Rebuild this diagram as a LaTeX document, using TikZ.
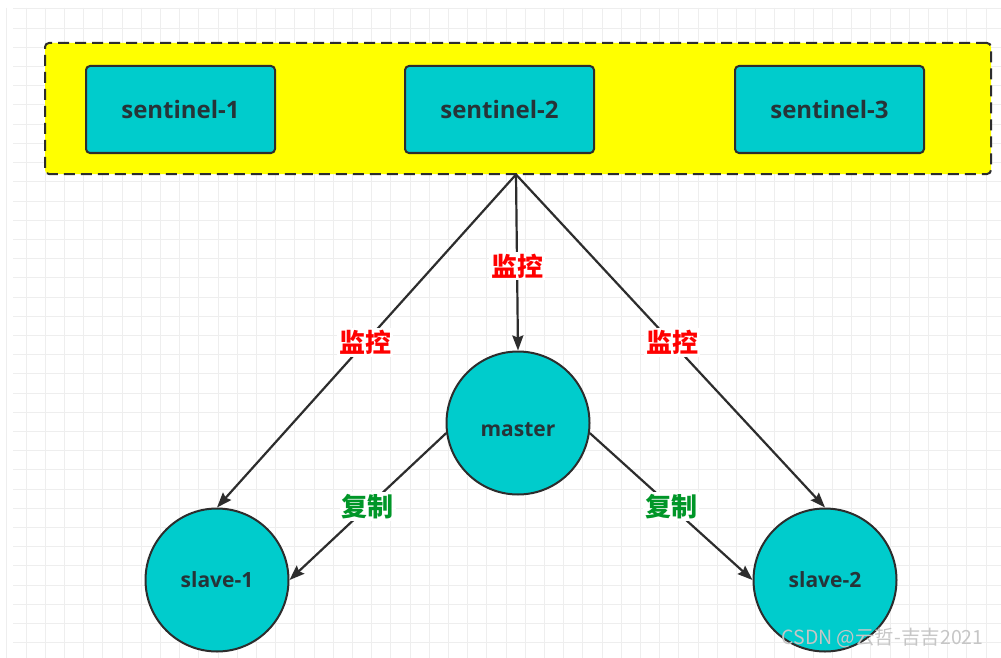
\documentclass[tikz,border=0pt]{standalone}
\usepackage{fontspec}
\setmainfont{Open Sans}
\newfontfamily\cjk{Noto Sans CJK SC}
\usetikzlibrary{arrows.meta}
\definecolor{teal0}{RGB}{0,204,204}
\definecolor{edge0}{RGB}{45,45,45}
\definecolor{txt0}{RGB}{38,52,56}
\definecolor{red0}{RGB}{255,0,0}
\definecolor{green0}{RGB}{0,150,40}
\definecolor{yellow0}{RGB}{255,255,0}
\definecolor{grid0}{RGB}{238,238,238}
\tikzset{
  sentbox/.style={draw=edge0, line width=2pt, fill=teal0, rounded corners=4pt,
    minimum width=189pt, minimum height=87pt, inner sep=0pt,
    font=\fontsize{24}{28}\selectfont\bfseries, text=txt0},
  redis/.style={circle, draw=edge0, line width=2pt, fill=teal0,
    minimum size=143pt, inner sep=0pt,
    font=\fontsize{21}{25}\selectfont\bfseries, text=txt0},
  conn/.style={draw=edge0, line width=2.2pt,
    -{Stealth[length=15pt,width=11pt,inset=2pt]}},
  monlbl/.style={fill=white, inner sep=2pt, text=red0,
    font=\cjk\fontsize{26}{30}\selectfont\bfseries},
  replbl/.style={fill=white, inner sep=2pt, text=green0,
    font=\cjk\fontsize{26}{30}\selectfont\bfseries},
}
\begin{document}
\begin{tikzpicture}[x=1pt,y=-1pt]
\useasboundingbox (0,0) rectangle (1001,658);
\fill[white] (0,0) rectangle (1001,658);
% grid
\foreach \i in {0,...,51} {
  \draw[grid0, line width=1pt] ({26+19.2*\i-19.2},8) -- ({26+19.2*\i-19.2},658);
}
\foreach \j in {0,...,34} {
  \draw[grid0, line width=1pt] (13,{9+19.2*\j}) -- (1001,{9+19.2*\j});
}
% sentinel group
\node[draw=edge0, line width=2pt, dash pattern=on 11pt off 6pt, fill=yellow0,
  rounded corners=4pt, minimum width=946pt, minimum height=131pt, inner sep=0pt]
  (group) at (518,108.5) {};
\node[sentbox] (s1) at (180.5,109.5) {sentinel-1};
\node[sentbox] (s2) at (499.5,109.5) {sentinel-2};
\node[sentbox] (s3) at (829.5,109.5) {sentinel-3};
\coordinate (src) at (516,174.5);
% redis nodes
\node[redis, text height=26pt, text depth=0pt] (master) at (518,423) {master};
\node[redis] (slave1) at (217,580) {slave-1};
\node[redis] (slave2) at (825,580) {slave-2};
% connectors
\draw[conn] (src) -- node[monlbl, pos=0.505] {监控} (slave1.north);
\draw[conn] (src) -- node[monlbl, pos=0.52] {监控} (master.north);
\draw[conn] (src) -- node[monlbl, pos=0.505] {监控} (slave2.north);
\draw[conn] (master.188) -- node[replbl, pos=0.5] {复制} (slave1.east);
\draw[conn] (master.352) -- node[replbl, pos=0.5] {复制} (slave2.west);
% watermark
\node[text=gray!45, font=\cjk\fontsize{19.5}{23}\selectfont, anchor=east] (wm) at (987,638) {CSDN @云哲-吉吉2021};
\end{tikzpicture}
\end{document}
